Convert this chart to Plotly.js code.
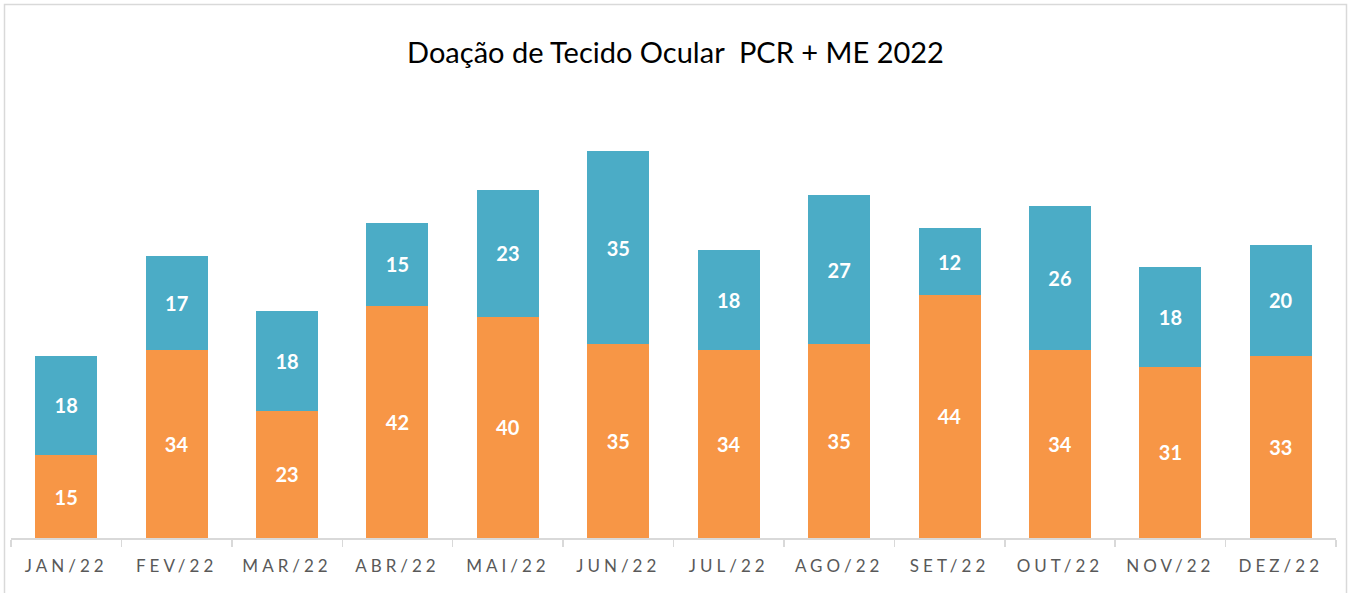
<!DOCTYPE html>
<html>
<head>
<meta charset="utf-8">
<script src="https://cdn.plot.ly/plotly-3.0.1.min.js"></script>
<style>
html,body{margin:0;padding:0;background:#fff;}
#chart{width:1351px;height:593px;}
.xtick text{letter-spacing:4px;}
</style>
</head>
<body>
<div id="chart"></div>
<script>
const categories = ["JAN/22","FEV/22","MAR/22","ABR/22","MAI/22","JUN/22","JUL/22","AGO/22","SET/22","OUT/22","NOV/22","DEZ/22"];
const pcrValues = [15,34,23,42,40,35,34,35,44,34,31,33];
const meValues  = [18,17,18,15,23,35,18,27,12,26,18,20];
const titleText = "Doação de Tecido Ocular  PCR + ME 2022";

const W = 1351, H = 593;
const margin = {l: 11, r: 15, t: 100, b: 55};
const pw = W - margin.l - margin.r, ph = H - margin.t - margin.b;
const px2x = p => (p - margin.l) / pw;
const px2y = p => (H - margin.b - p) / ph;

const common = {
  type: 'bar',
  x: categories,
  textposition: 'inside',
  insidetextanchor: 'middle',
  textangle: 0,
  constraintext: 'none',
  textfont: {family: 'Lato, Carlito, sans-serif', size: 20, color: '#ffffff', weight: 'bold'},
  hoverinfo: 'none'
};

const data = [
  Object.assign({}, common, {name: 'PCR', y: pcrValues, text: pcrValues.map(String), marker: {color: '#F79646'}}),
  Object.assign({}, common, {name: 'ME', y: meValues, text: meValues.map(String), marker: {color: '#4BACC6'}})
];

const layout = {
  width: W, height: H,
  margin: margin,
  barmode: 'stack',
  bargap: 0.438,
  showlegend: false,
  paper_bgcolor: '#ffffff',
  plot_bgcolor: '#ffffff',
  title: {
    text: titleText,
    font: {family: 'Lato, Carlito, sans-serif', size: 29, color: '#000000', weight: 'normal'},
    x: 0.5, xref: 'container', xanchor: 'center',
    y: 1 - 53/H, yref: 'container', yanchor: 'middle'
  },
  xaxis: {
    showline: true, linecolor: '#d9d9d9', linewidth: 1.5,
    ticks: 'outside', tickson: 'boundaries', ticklen: 7, tickcolor: '#d9d9d9', tickwidth: 1.5,
    tickfont: {family: 'Lato, Carlito, sans-serif', size: 17, color: '#595959'},
    ticklabelstandoff: 12,
    showgrid: false, zeroline: false, fixedrange: true
  },
  yaxis: {
    range: [0, ph / 5.53],
    visible: false, showgrid: false, zeroline: false, fixedrange: true
  },
  shapes: [{
    type: 'rect', xref: 'paper', yref: 'paper',
    x0: px2x(4.5), x1: px2x(1346.5), y0: px2y(600), y1: px2y(4.5),
    line: {color: '#d9d9d9', width: 1.5}, fillcolor: 'rgba(0,0,0,0)', layer: 'below'
  }]
};

Plotly.newPlot('chart', data, layout, {staticPlot: true, displayModeBar: false});
</script>
</body>
</html>
